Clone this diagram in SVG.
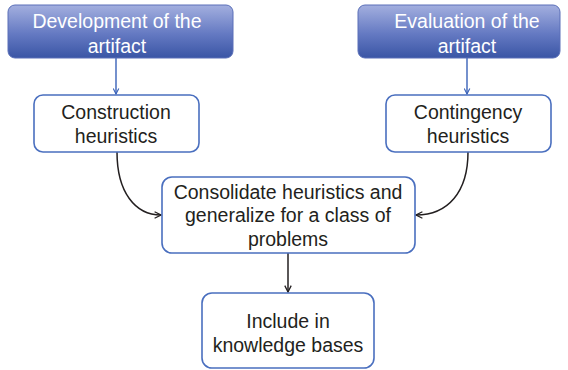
<svg xmlns="http://www.w3.org/2000/svg" width="568" height="370" viewBox="0 0 568 370">
  <style>
    .head rect { fill: url(#headFill); stroke: #5a6fb8; stroke-width: 1; }
    .head text { fill: #ffffff; }
    .box rect { fill: #ffffff; stroke: #4a6fbf; stroke-width: 1.6; }
    .box text { fill: #231f20; }
    text { font-family: "Liberation Sans", Arial, sans-serif; font-size: 19.5px; text-anchor: middle; }
    .blue { fill: none; stroke: #3a62b8; stroke-width: 1.4; marker-end: url(#arrowBlue); }
    .dark { fill: none; stroke: #231f20; stroke-width: 1.5; marker-end: url(#arrowDark); }
  </style>
  <defs>
    <linearGradient id="headFill" x1="0" y1="0" x2="0" y2="1">
      <stop offset="0" stop-color="#a3afdf"/>
      <stop offset="0.55" stop-color="#6479c2"/>
      <stop offset="1" stop-color="#3a55a5"/>
    </linearGradient>
    <marker id="arrowBlue" viewBox="0 0 10 10" refX="9" refY="5" markerWidth="7" markerHeight="7" markerUnits="userSpaceOnUse" orient="auto">
      <path d="M1,1 L9,5 L1,9" fill="none" stroke="#3a62b8" stroke-width="1.6"/>
    </marker>
    <marker id="arrowDark" viewBox="0 0 10 10" refX="9" refY="5" markerWidth="8" markerHeight="8" markerUnits="userSpaceOnUse" orient="auto">
      <path d="M1,1 L9,5 L1,9" fill="none" stroke="#231f20" stroke-width="1.6"/>
    </marker>
  </defs>

  <!-- connectors -->
  <g id="connectors">
    <line class="blue" x1="116" y1="58" x2="116" y2="94"/>
    <line class="blue" x1="467" y1="58" x2="467" y2="94"/>
    <path class="dark" d="M117,152 C117,192 135,215 161,215"/>
    <path class="dark" d="M468,152 C468,192 448,215 416,215"/>
    <line class="dark" x1="288" y1="253" x2="288" y2="292"/>
  </g>

  <!-- phase headers -->
  <g id="development" class="head">
    <rect x="8" y="5" width="225" height="53" rx="7"/>
    <text x="117" y="28">Development of the</text>
    <text x="117" y="53">artifact</text>
  </g>
  <g id="evaluation" class="head">
    <rect x="358" y="5" width="202" height="53" rx="7"/>
    <text x="467" y="28">Evaluation of the</text>
    <text x="467" y="53">artifact</text>
  </g>

  <!-- heuristic steps -->
  <g id="construction" class="box">
    <rect x="34" y="95" width="165" height="57" rx="9"/>
    <text x="116" y="119">Construction</text>
    <text x="116" y="143">heuristics</text>
  </g>
  <g id="contingency" class="box">
    <rect x="386" y="95" width="165" height="57" rx="9"/>
    <text x="468" y="119">Contingency</text>
    <text x="468" y="143">heuristics</text>
  </g>
  <g id="consolidate" class="box">
    <rect x="162" y="177" width="253" height="76" rx="10"/>
    <text x="288" y="199">Consolidate heuristics and</text>
    <text x="288" y="222">generalize for a class of</text>
    <text x="288" y="246">problems</text>
  </g>
  <g id="include" class="box">
    <rect x="202" y="293" width="172" height="75" rx="10"/>
    <text x="288" y="328">Include in</text>
    <text x="288" y="352">knowledge bases</text>
  </g>
</svg>
